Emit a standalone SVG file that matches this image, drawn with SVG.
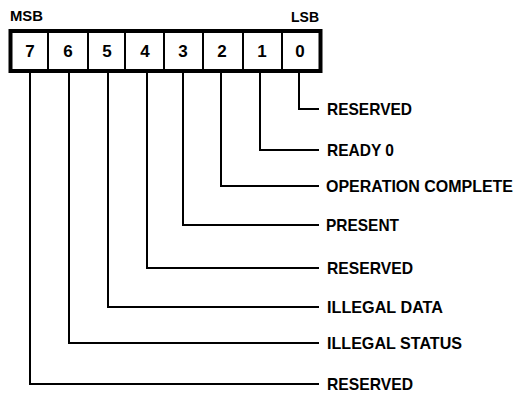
<svg xmlns="http://www.w3.org/2000/svg" width="517" height="394" viewBox="0 0 517 394">
<style>
.t{font-family:"Liberation Sans",Arial,sans-serif;font-weight:bold;font-size:17px;fill:#000}
.h{font-size:15px}
.s{font-size:16px}
.d{text-anchor:middle}
.c{fill:none;stroke:#000;stroke-width:2}
.frame{fill:#fff;stroke:#000;stroke-width:4}
.div{stroke:#000;stroke-width:2}
</style>
<rect width="517" height="394" fill="#fff"/>
<g id="labels-top">
<text class="t h" x="10" y="21" textLength="33" lengthAdjust="spacingAndGlyphs">MSB</text>
<text class="t h" x="291" y="22" textLength="28" lengthAdjust="spacingAndGlyphs">LSB</text>
</g>
<g id="register">
<rect class="frame" x="10.5" y="31" width="310" height="40"/>
<line class="div" x1="48" y1="31" x2="48" y2="71"/>
<line class="div" x1="88" y1="31" x2="88" y2="71"/>
<line class="div" x1="125" y1="31" x2="125" y2="71"/>
<line class="div" x1="164" y1="31" x2="164" y2="71"/>
<line class="div" x1="203" y1="31" x2="203" y2="71"/>
<line class="div" x1="243" y1="31" x2="243" y2="71"/>
<line class="div" x1="282" y1="31" x2="282" y2="71"/>
<text class="t d" x="30" y="57">7</text>
<text class="t d" x="68" y="57">6</text>
<text class="t d" x="107" y="57">5</text>
<text class="t d" x="145" y="57">4</text>
<text class="t d" x="183" y="57">3</text>
<text class="t d" x="222" y="57">2</text>
<text class="t d" x="262" y="57">1</text>
<text class="t d" x="300" y="57">0</text>
</g>
<g id="connectors">
<polyline class="c" points="299,73 299,109 319,109"/>
<polyline class="c" points="260,73 260,150 319,150"/>
<polyline class="c" points="221,73 221,186 319,186"/>
<polyline class="c" points="183,73 183,225 319,225"/>
<polyline class="c" points="147,73 147,268 319,268"/>
<polyline class="c" points="108,73 108,307 319,307"/>
<polyline class="c" points="69,73 69,343 319,343"/>
<polyline class="c" points="30,73 30,384 319,384"/>
</g>
<g id="bit0"><text class="t" x="327" y="115" textLength="85" lengthAdjust="spacingAndGlyphs">RESERVED</text></g>
<g id="bit1"><text class="t" x="327" y="156" textLength="67" lengthAdjust="spacingAndGlyphs">READY 0</text></g>
<g id="bit2"><text class="t s" x="326" y="192" textLength="187" lengthAdjust="spacingAndGlyphs">OPERATION COMPLETE</text></g>
<g id="bit3"><text class="t" x="326" y="231" textLength="73" lengthAdjust="spacingAndGlyphs">PRESENT</text></g>
<g id="bit4"><text class="t" x="327" y="274" textLength="86" lengthAdjust="spacingAndGlyphs">RESERVED</text></g>
<g id="bit5"><text class="t" x="327" y="313" textLength="116" lengthAdjust="spacingAndGlyphs">ILLEGAL DATA</text></g>
<g id="bit6"><text class="t" x="327" y="349" textLength="135" lengthAdjust="spacingAndGlyphs">ILLEGAL STATUS</text></g>
<g id="bit7"><text class="t" x="327" y="390" textLength="86" lengthAdjust="spacingAndGlyphs">RESERVED</text></g>
</svg>
